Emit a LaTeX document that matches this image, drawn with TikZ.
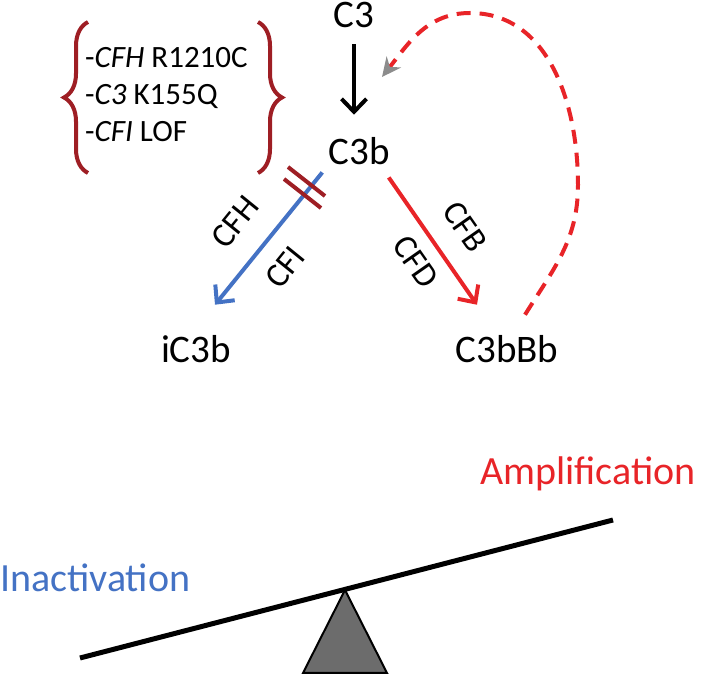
\documentclass[tikz,border=0pt]{standalone}
\usepackage{fontspec}
\setmainfont{Carlito}
\usetikzlibrary{arrows.meta,decorations.pathreplacing,positioning}
\definecolor{inactblue}{RGB}{68,114,196}
\definecolor{ampred}{RGB}{232,36,40}
\definecolor{bracered}{RGB}{158,30,36}
\definecolor{headgray}{RGB}{140,140,140}
\definecolor{fulcrum}{RGB}{108,108,108}

\begin{document}
\begin{tikzpicture}[x=1pt, y=1pt,
    lab/.style={font=\fontsize{39}{46}\selectfont, inner sep=0pt, anchor=base},
    side/.style={font=\fontsize{40}{46}\selectfont, inner sep=0pt, anchor=base west},
    enz/.style={font=\fontsize{34}{40}\selectfont, inner sep=0pt},
    flow/.style={line width=4pt, -{Straight Barb[length=13pt,width=25pt]}},
    loopback/.style={line width=4pt, ampred, dash pattern=on 14pt off 9pt,
        -{Stealth[length=19pt,width=18pt,color=headgray]}},
    cut/.style={line width=4pt, bracered},
    brc/.style={line width=4pt, bracered, decorate, decoration={brace, amplitude=24pt}}
]
    \useasboundingbox (0,0) rectangle (702,688);

    % complement species
    \node[lab] (c3) at (354,660) {C3};
    \node[lab] (c3b) at (359,523) {C3b};
    \node[lab] (ic3b) at (196,325) {iC3b};
    \node[lab] (c3bbb) at (507,325) {C3bBb};

    % variants in braces
    \node[font=\fontsize{31}{37}\selectfont, align=left, inner sep=0pt, anchor=north west] (var) at (85,641)
        {-\textit{CFH} R1210C\\-\textit{C3} K155Q\\-\textit{CFI} LOF};
    \draw[brc] (88,515) -- (88,666);
    \draw[brc] (258,666) -- (258,515);

    % pathways
    \draw[flow, shorten <=16pt, shorten >=23pt] (c3.south) -- (c3.south |- c3b.north);
    \draw[flow, inactblue] ([shift={(-6,-7)}]c3b.south west) -- ([shift={(19,31)}]ic3b.north);
    \draw[flow, ampred] ([shift={(-1,-12)}]c3b.south east) -- ([shift={(-30,31)}]c3bbb.north);
    \draw[cut] (288,521) -- (325,492);
    \draw[cut] (284,509) -- (321,480);

    \node[enz, rotate=51] (cfh) at (235,466) {CFH};
    \node[enz, rotate=51] (cfi) at (285,421) {CFI};
    \node[enz, rotate=-55] (cfb) at (465,461) {CFB};
    \node[enz, rotate=-55] (cfd) at (416,426) {CFD};

    % amplification loop
    \coordinate (loopside) at (578,503);
    \coordinate (looptop) at (470,675);
    \coordinate (loopend) at (382,611);
    \draw[loopback] ([shift={(18,21)}]c3bbb.north) to[out=58,in=-90] (loopside)
        to[out=90,in=0] (looptop) to[out=180,in=52] (loopend);

    % balance
    \draw[line width=2pt, fill=fulcrum] (303,15) -- (345,98) -- (387,15) -- cycle;
    \draw[line width=5pt] (80,30) -- (613,168);
    \node[side, text=inactblue] (inact) at (0,96) {Inactivation};
    \node[side, text=ampred] (ampl) at (480,203) {Amplification};
\end{tikzpicture}
\end{document}
